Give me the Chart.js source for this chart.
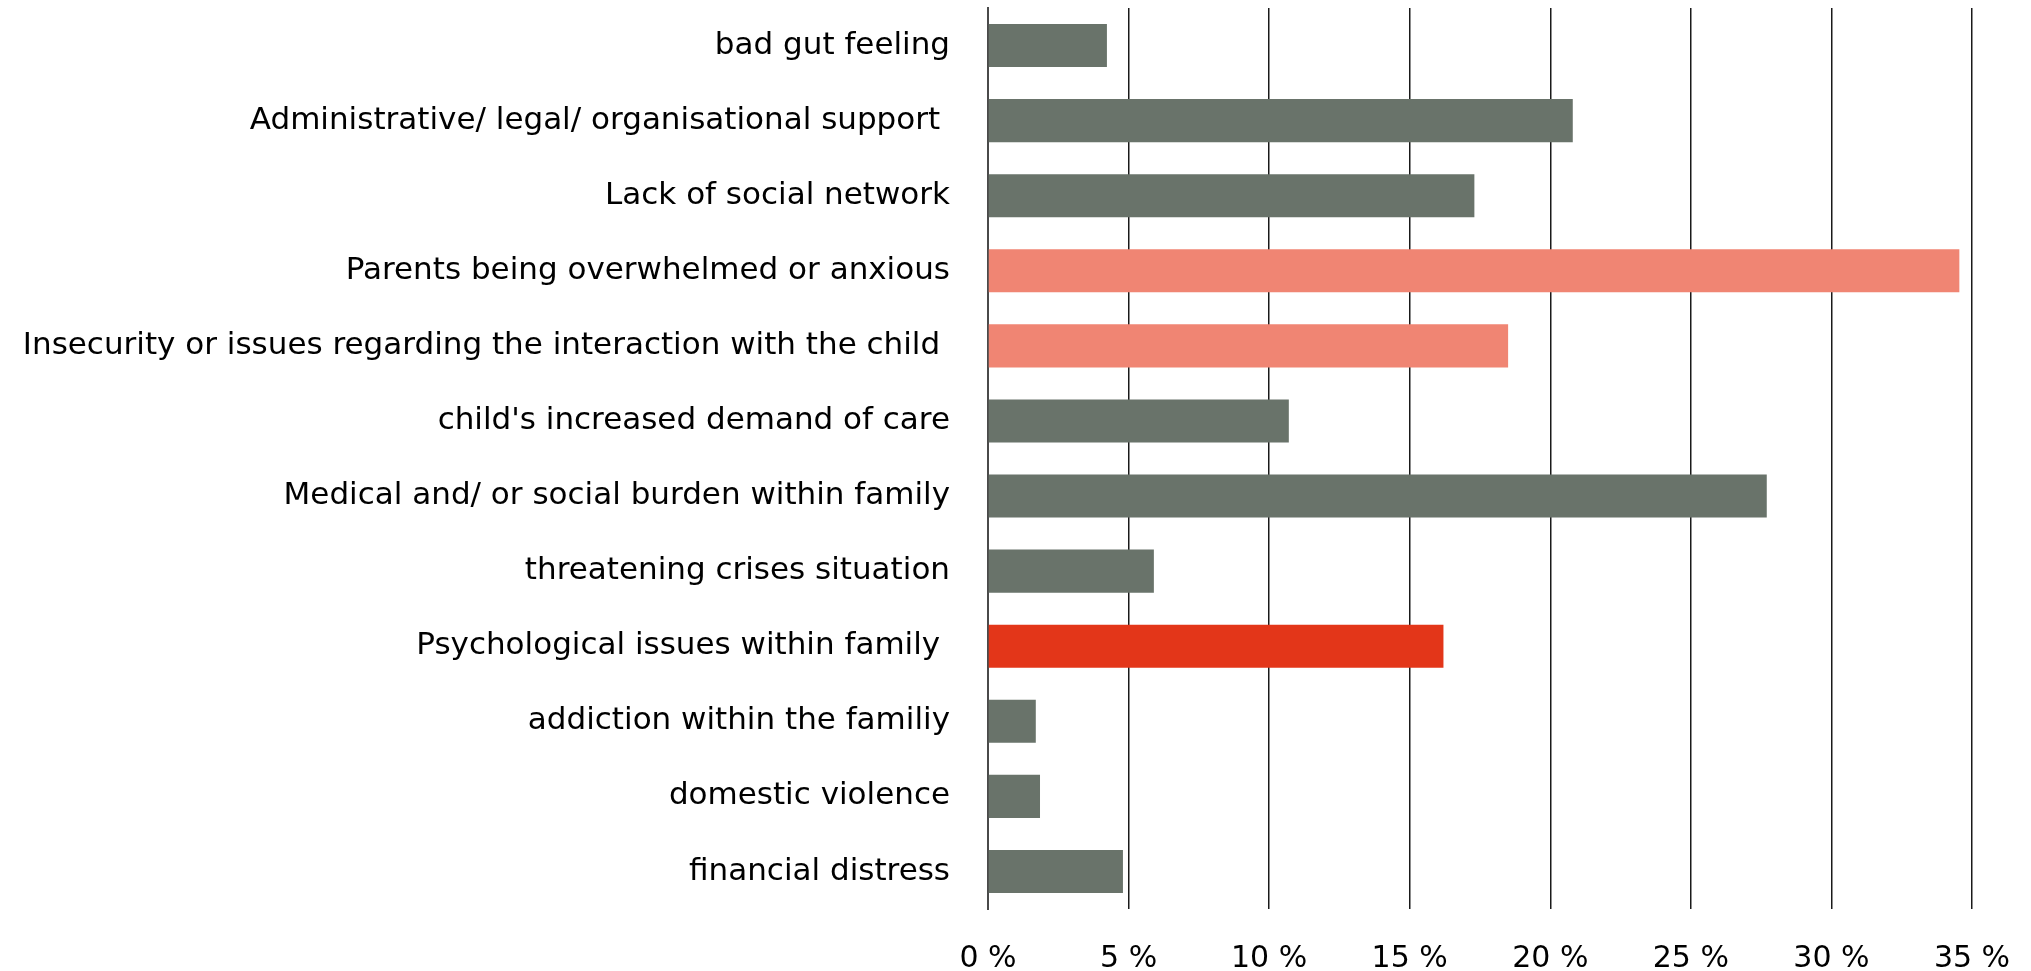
<!DOCTYPE html>
<html>
<head>
<meta charset="utf-8">
<script src="https://cdn.jsdelivr.net/npm/chart.js@4"></script>
<style>
html,body{margin:0;padding:0;background:#fff;}
#c{display:block;}
</style>
</head>
<body>
<canvas id="c" width="2031" height="971"></canvas>
<script>
const categories = [
  "bad gut feeling",
  "Administrative/ legal/ organisational support ",
  "Lack of social network",
  "Parents being overwhelmed or anxious",
  "Insecurity or issues regarding the interaction with the child ",
  "child's increased demand of care",
  "Medical and/ or social burden within family",
  "threatening crises situation",
  "Psychological issues within family ",
  "addiction within the familiy",
  "domestic violence",
  "financial distress"
];
const values = [4.23, 20.8, 17.3, 34.55, 18.5, 10.7, 27.7, 5.9, 16.2, 1.7, 1.85, 4.8];
const barColors = ["#69736a","#69736a","#69736a","#f08573","#f08573","#69736a","#69736a","#69736a","#e33619","#69736a","#69736a","#69736a"];
const tickValues = [0, 5, 10, 15, 20, 25, 30, 35];

const FONT = "'DejaVu Sans', sans-serif";

new Chart(document.getElementById('c'), {
  type: 'bar',
  data: {
    labels: categories,
    datasets: [{
      data: values,
      backgroundColor: barColors,
      borderWidth: 0,
      categoryPercentage: 1,
      barPercentage: 0.573
    }]
  },
  options: {
    indexAxis: 'y',
    responsive: false,
    devicePixelRatio: 1,
    animation: false,
    layout: { padding: { left: 0, right: 59, top: 8, bottom: 0 } },
    plugins: { legend: { display: false }, tooltip: { enabled: false } },
    scales: {
      x: {
        type: 'linear',
        min: 0,
        max: 35,
        afterBuildTicks(scale) { scale.ticks = tickValues.map(v => ({ value: v })); },
        afterFit(scale) { scale.height = 62; scale.paddingLeft = 0; scale.paddingRight = 0; },
        grid: { color: '#1a1a1a', lineWidth: 1.5, drawTicks: false },
        border: { display: false },
        ticks: {
          padding: 32,
          color: '#000',
          font: { family: FONT, size: 30 },
          maxRotation: 0,
          callback: v => v + ' %'
        }
      },
      y: {
        afterFit(scale) { scale.width = 988; scale.paddingTop = 0; scale.paddingBottom = 0; },
        grid: { display: false, drawTicks: false },
        border: { display: true, color: '#4a4a4a', width: 2 },
        ticks: {
          padding: 38,
          color: '#000',
          font: { family: FONT, size: 31 }
        }
      }
    }
  }
});
</script>
</body>
</html>
